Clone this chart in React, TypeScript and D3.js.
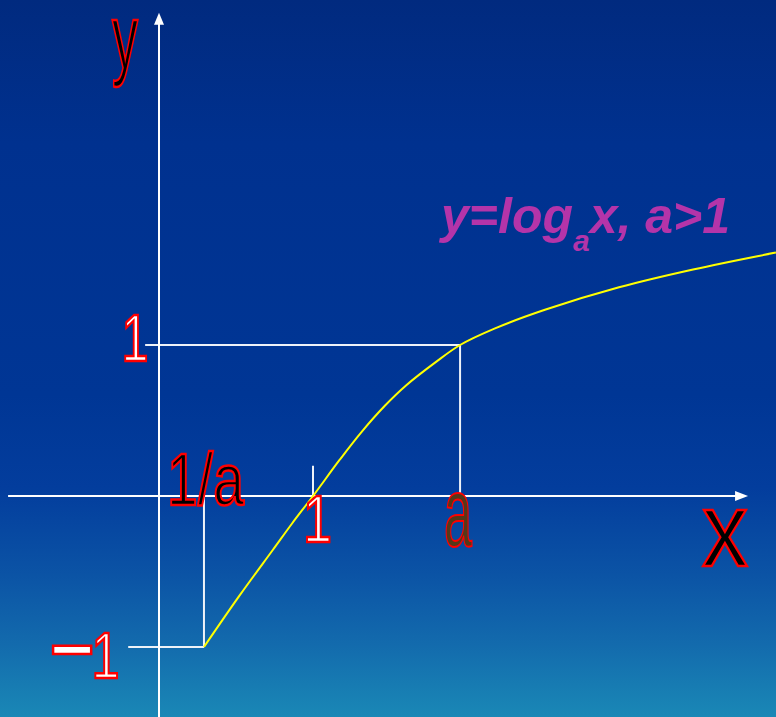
import * as d3 from 'd3';

// hand-drawn log curve (x in units where 1 -> tick "1", y in units where 1 -> label "1")
const curveX = [0.292, 0.526, 0.74, 0.864, 1.0, 1.175, 1.312, 1.468, 1.604, 1.799, 1.955, 2.182, 2.506, 2.987, 3.468, 4.006];
const curveY = [-1, -0.655, -0.356, -0.182, 0, 0.242, 0.42, 0.599, 0.732, 0.888, 1.0, 1.11, 1.233, 1.382, 1.5, 1.612];

// special x positions
const INV_A = 0.292;
const A = 1.955;

// axis extents in data units
const xAxisExtent = [-0.98, 3.825];
const yAxisExtent = [-1.465, 3.2];

const bgStops = [
  { offset: 0, color: '#012a7f' },
  { offset: 0.2, color: '#00318f' },
  { offset: 0.55, color: '#003695' },
  { offset: 0.68, color: '#033d9d' },
  { offset: 0.8, color: '#0b53a5' },
  { offset: 0.9, color: '#136bad' },
  { offset: 1, color: '#1a88b6' },
];

const W = 776;
const H = 717;

const App = () => {
  const x = d3.scaleLinear().domain([0, 1]).range([159, 313]);
  const y = d3.scaleLinear().domain([-1, 1]).range([647, 345]);

  const pts: [number, number][] = curveX.map((v, i) => [v, curveY[i]]);
  const line = d3
    .line<[number, number]>()
    .x(d => x(d[0]))
    .y(d => y(d[1]))
    .curve(d3.curveCatmullRom.alpha(0.5));

  const x0 = x(0);
  const y0 = y(0);
  const guide = { stroke: '#eef2f8', strokeWidth: 2 };
  const label = { fontFamily: '"Liberation Sans", Arial, sans-serif', stroke: '#ff0000', strokeWidth: 2.5 };

  return (
    <svg width={W} height={H} style={{ position: 'absolute', left: 0, top: 0 }}>
      <defs>
        <linearGradient id="bg" x1="0" y1="0" x2="0" y2="1">
          {bgStops.map(s => (
            <stop key={s.offset} offset={s.offset} stopColor={s.color} />
          ))}
        </linearGradient>
      </defs>
      <rect width={W} height={H} fill="url(#bg)" />

      {/* guide lines */}
      <line x1={x(-0.09)} x2={x(A)} y1={y(1)} y2={y(1)} {...guide} />
      <line x1={x(A)} x2={x(A)} y1={y(1)} y2={y0} {...guide} />
      <line x1={x(INV_A)} x2={x(INV_A)} y1={y0} y2={y(-1)} {...guide} />
      <line x1={x(-0.2)} x2={x(INV_A)} y1={y(-1)} y2={y(-1)} {...guide} />
      <line x1={x(1)} x2={x(1)} y1={y(0.2)} y2={y0} {...guide} />

      {/* axes */}
      <line x1={x(xAxisExtent[0])} x2={x(xAxisExtent[1]) - 12} y1={y0} y2={y0} stroke="#fff" strokeWidth={2} />
      <path d={`M${x(xAxisExtent[1])},${y0} l-13,-5 l0,10 Z`} fill="#fff" />
      <line x1={x0} x2={x0} y1={y(yAxisExtent[0])} y2={y(yAxisExtent[1]) + 11} stroke="#fff" strokeWidth={2} />
      <path d={`M${x0},${y(yAxisExtent[1])} l-5,12 l10,0 Z`} fill="#fff" />

      {/* curve */}
      <path d={line(pts) || ''} fill="none" stroke="#ffff00" strokeWidth={2} />

      {/* labels */}
      <text x={112} y={68} fontSize={90} textLength={26} lengthAdjust="spacingAndGlyphs" fill="#000" {...label}>
        y
      </text>
      <text x={702} y={566} fontSize={106} textLength={46} lengthAdjust="spacingAndGlyphs" fill="#000" {...label}>
        x
      </text>
      <text x={x(A) - 16} y={546} fontSize={98} textLength={28} lengthAdjust="spacingAndGlyphs" fill="#553818" {...label} strokeWidth={2}>
        a
      </text>
      <text x={x(INV_A) - 37} y={505} fontSize={74} textLength={77} lengthAdjust="spacingAndGlyphs" fill="#000" {...label}>
        1/a
      </text>
      <text x={x(1) - 10} y={542} fontSize={66} textLength={29} lengthAdjust="spacingAndGlyphs" fill="#fff" {...label}>
        1
      </text>
      <text x={x0 - 37.5} y={361} fontSize={66} textLength={27} lengthAdjust="spacingAndGlyphs" fill="#fff" {...label}>
        1
      </text>
      <text x={50} y={678} fontSize={64} fill="#fff" {...label}>
        <tspan fontWeight="bold" fontSize={76} dy={-3}>−</tspan>
        <tspan dx={-3} dy={3} textLength={28} lengthAdjust="spacingAndGlyphs">1</tspan>
      </text>

      {/* formula */}
      <text
        x={441}
        y={233}
        fontFamily='"Liberation Sans", Arial, sans-serif'
        fontWeight="bold"
        fontStyle="italic"
        fontSize={50}
        fill="#b434a9"
      >
        y=log
        <tspan fontSize={30} dy={18}>a</tspan>
        <tspan dy={-18}>x, a&gt;1</tspan>
      </text>
    </svg>
  );
};

export default App;
